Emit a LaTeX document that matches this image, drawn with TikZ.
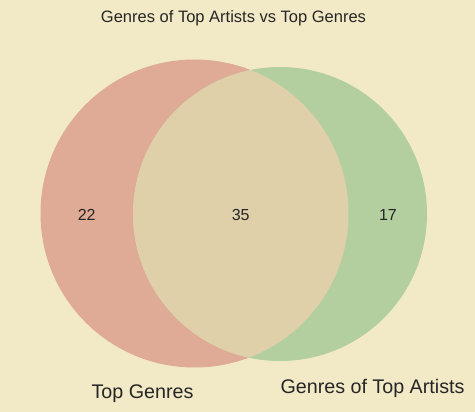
\documentclass[tikz,border=0pt]{standalone}
\usepackage{fontspec}
\setmainfont{Liberation Sans}
\usepackage{xcolor}
\usetikzlibrary{positioning}
\definecolor{paper}{HTML}{F2E9C6}
\definecolor{setA}{HTML}{DFAA96}
\definecolor{setB}{HTML}{B3CFA0}
\definecolor{both}{HTML}{E0D0AA}
\definecolor{ink}{HTML}{262626}
\tikzset{
  count/.style={anchor=base, text=ink, inner sep=0pt, font=\fontsize{16}{19}\selectfont},
  setname/.style={anchor=base, text=ink, inner sep=0pt, font=\fontsize{19.7}{23}\selectfont},
  heading/.style={anchor=base, text=ink, inner sep=0pt, font=\fontsize{16.5}{19}\selectfont}
}
\begin{document}
\begin{tikzpicture}[x=1pt,y=-1pt]
  \fill[paper] (0,0) rectangle (475,412);
  \useasboundingbox (0,0) rectangle (475,412);
  % the two sets
  \fill[setA] (194.5,213.5) circle[radius=154];
  \fill[setB] (280,214) circle[radius=147];
  \begin{scope}
    \clip (194.5,213.5) circle[radius=154];
    \fill[both] (280,214) circle[radius=147];
  \end{scope}
  % counts
  \node[count] (onlyA) at (86.7,220.7) {22};
  \node[count] (inter) at (240.7,220.7) {35};
  \node[count] (onlyB) at (388,220.7) {17};
  % set names and title
  \node[setname] (nameA) at (142.5,399) {Top Genres};
  \node[setname] (nameB) at (372.5,393) {Genres of Top Artists};
  \node[heading] (title) at (233.5,22.7) {Genres of Top Artists vs Top Genres};
\end{tikzpicture}
\end{document}
